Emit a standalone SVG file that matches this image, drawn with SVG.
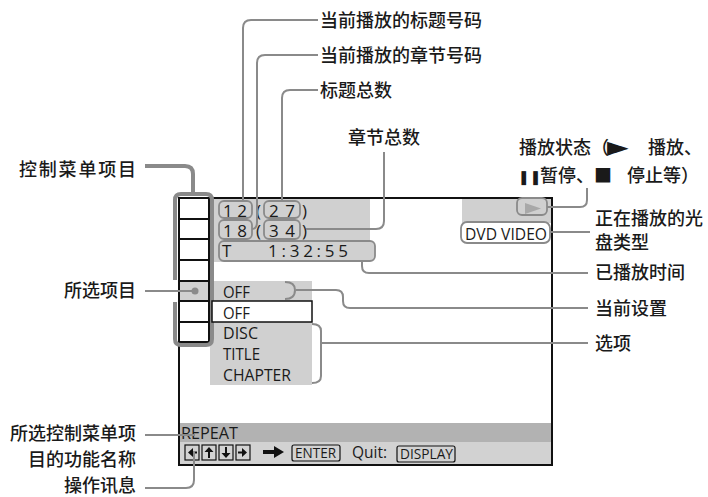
<svg xmlns="http://www.w3.org/2000/svg" width="708" height="497" viewBox="0 0 708 497">
<defs>
<style>
.lbl{font-family:"Noto Sans CJK SC","Noto Sans",sans-serif;font-size:18px;font-weight:500;fill:#1a1a1a}
.scr{font-family:"Open Sans","Liberation Sans",sans-serif;font-size:17px;fill:#1a1a1a}
.small{font-family:"Open Sans","Liberation Sans",sans-serif;font-size:14px;fill:#1a1a1a}
.ld{fill:none;stroke:#8a8a8a;stroke-width:2}
.thick{fill:none;stroke:#8a8a8a;stroke-width:4}
.shade{fill:#d0d0d0}
.gbox{fill:#d0d0d0;stroke:#8a8a8a;stroke-width:1.8}
.blk{fill:none;stroke:#111;stroke-width:2}
.ibox{fill:none;stroke:#111;stroke-width:1.2}
</style>
</defs>
<rect width="708" height="497" fill="#fff"/>

<g id="screen">
  <rect class="shade" x="212" y="199" width="158" height="63"/>
  <rect class="shade" x="462" y="199" width="89" height="24"/>
  <rect class="shade" x="210" y="281" width="102" height="20"/>
  <rect class="shade" x="210" y="322" width="102" height="63"/>
  <rect x="179" y="423" width="372" height="19" fill="#b2b2b2"/>
  <rect x="179" y="442" width="372" height="22" fill="#d2d2d2"/>
  <rect class="blk" x="179" y="198" width="373" height="267"/>
</g>

<g id="menu-column">
  <rect x="179" y="198" width="30" height="144" fill="#fff" stroke="#111" stroke-width="2"/>
  <rect x="180" y="281" width="28" height="20" fill="#d0d0d0"/>
  <path d="M179,219 H209 M179,239 H209 M179,260 H209 M179,281 H209 M179,301 H209 M179,322 H209" stroke="#111" stroke-width="2" fill="none"/>
  <path class="thick" d="M175,280 V200 Q175,194 181,194 H206 Q212,194 212,200 V339 Q212,345 206,345 H181 Q175,345 175,339 V302"/>
</g>

<g id="title-chapter">
  <rect class="gbox" x="219" y="201" width="33" height="17" rx="5"/>
  <rect class="gbox" x="264" y="201" width="36" height="17" rx="5"/>
  <rect class="gbox" x="219" y="220" width="33" height="19" rx="5"/>
  <rect class="gbox" x="264" y="220" width="36" height="19" rx="5"/>
  <text class="scr" x="223" y="217" textLength="24" lengthAdjust="spacing">12</text>
  <text class="scr" x="256" y="217">(</text>
  <text class="scr" x="269" y="217" textLength="26" lengthAdjust="spacing">27</text>
  <text class="scr" x="302" y="217">)</text>
  <text class="scr" x="223" y="237" textLength="24" lengthAdjust="spacing">18</text>
  <text class="scr" x="256" y="237">(</text>
  <text class="scr" x="269" y="237" textLength="26" lengthAdjust="spacing">34</text>
  <text class="scr" x="302" y="237">)</text>
</g>

<g id="time">
  <rect class="gbox" x="219" y="241" width="156" height="20" rx="5"/>
  <text class="scr" x="222" y="257">T</text>
  <text class="scr" x="268" y="257" textLength="80" lengthAdjust="spacing">1:32:55</text>
</g>

<g id="status">
  <rect class="gbox" x="517" y="198" width="30" height="17" rx="5"/>
  <path d="M525,203 L541,208.5 L525,214 Z" fill="#a8a8a8"/>
</g>

<g id="disc-type">
  <rect x="461" y="222" width="89" height="21" rx="6" fill="#fff" stroke="#8a8a8a" stroke-width="1.8"/>
  <text class="scr" x="465" y="240" font-size="18" textLength="82" lengthAdjust="spacingAndGlyphs">DVD VIDEO</text>
</g>

<g id="current-setting">
  <text class="scr" x="223" y="298" textLength="27" lengthAdjust="spacingAndGlyphs">OFF</text>
  <path class="ld" d="M285,282 Q295,282 295,290 Q295,299 285,299"/>
</g>

<g id="options">
  <rect x="212" y="301" width="100" height="21" fill="#fff" stroke="#111" stroke-width="1.5"/>
  <text class="scr" x="223" y="319" textLength="27" lengthAdjust="spacingAndGlyphs">OFF</text>
  <text class="scr" x="223" y="339" textLength="35" lengthAdjust="spacingAndGlyphs">DISC</text>
  <text class="scr" x="223" y="360" textLength="37" lengthAdjust="spacingAndGlyphs">TITLE</text>
  <text class="scr" x="223" y="381" textLength="68" lengthAdjust="spacingAndGlyphs">CHAPTER</text>
  <path class="ld" d="M312,324 Q321,324 321,331 V376 Q321,383 312,383"/>
</g>

<g id="function-name">
  <text class="scr" x="181" y="439" textLength="57" lengthAdjust="spacingAndGlyphs">REPEAT</text>
</g>

<g id="operation-message">
  <rect class="ibox" x="185" y="445" width="14" height="15"/>
  <rect class="ibox" x="202" y="445" width="14" height="15"/>
  <rect class="ibox" x="219" y="445" width="14" height="15"/>
  <rect class="ibox" x="236" y="445" width="14" height="15"/>
  <path d="M188,452.5 L193,448 L193,457 Z M193,451.5 H197 V453.5 H193 Z" fill="#111"/>
  <path d="M209,447 L213.5,452 L204.5,452 Z M208,452 H210 V458 H208 Z" fill="#111"/>
  <path d="M226,458 L221.5,453 L230.5,453 Z M225,447 H227 V453 H225 Z" fill="#111"/>
  <path d="M247,452.5 L242,448 L242,457 Z M238,451.5 H242 V453.5 H238 Z" fill="#111"/>
  <path d="M263,450 H274 V446 L284,452 L274,458 V454 H263 Z" fill="#111"/>
  <rect class="ibox" x="292" y="445" width="48" height="16" rx="2"/>
  <text class="small" x="295" y="458" textLength="41" lengthAdjust="spacingAndGlyphs">ENTER</text>
  <text class="scr" x="352" y="458" textLength="35" lengthAdjust="spacingAndGlyphs">Quit:</text>
  <rect class="ibox" x="397" y="446" width="58" height="16" rx="2"/>
  <text class="small" x="400" y="459" textLength="53" lengthAdjust="spacingAndGlyphs">DISPLAY</text>
</g>

<g id="labels">
  <g id="lbl-title-no"><text class="lbl" x="320" y="27">当前播放的标题号码</text></g>
  <g id="lbl-chapter-no"><text class="lbl" x="320" y="62">当前播放的章节号码</text></g>
  <g id="lbl-title-total"><text class="lbl" x="320" y="97">标题总数</text></g>
  <g id="lbl-chapter-total"><text class="lbl" x="348" y="144">章节总数</text></g>
  <g id="lbl-menu-items"><text class="lbl" x="136" y="176" text-anchor="end" textLength="117" lengthAdjust="spacing">控制菜单项目</text></g>
  <g id="lbl-selected"><text class="lbl" x="136" y="297" text-anchor="end">所选项目</text></g>
  <g id="lbl-function"><text class="lbl" x="136" y="440" text-anchor="end">所选控制菜单项</text><text class="lbl" x="136" y="466" text-anchor="end">目的功能名称</text></g>
  <g id="lbl-operation"><text class="lbl" x="136" y="492" text-anchor="end">操作讯息</text></g>
  <g id="lbl-status">
    <text class="lbl" y="154"><tspan x="519">播放状态（</tspan><tspan x="607" y="156" font-family="DejaVu Sans" font-size="28">►</tspan><tspan x="648" y="154">播放、</tspan></text>
    <text class="lbl" y="182"><tspan x="518" font-family="DejaVu Sans" font-size="14">❚❚</tspan><tspan x="540">暂停、</tspan><tspan x="594">■</tspan><tspan x="627">停止等）</tspan></text>
  </g>
  <g id="lbl-disc-type"><text class="lbl" x="595" y="225">正在播放的光</text><text class="lbl" x="595" y="249">盘类型</text></g>
  <g id="lbl-elapsed"><text class="lbl" x="595" y="279">已播放时间</text></g>
  <g id="lbl-setting"><text class="lbl" x="595" y="315">当前设置</text></g>
  <g id="lbl-options"><text class="lbl" x="595" y="350">选项</text></g>
</g>

<g id="connectors">
  <path class="ld" d="M318,20 H251 Q243,20 243,28 V201"/>
  <path class="ld" d="M318,55 H265 Q257,55 257,63 V222 Q257,229 252,229"/>
  <path class="ld" d="M318,90 H290 Q282,90 282,98 V201"/>
  <path class="ld" d="M384,152 V221 Q384,229 376,229 H306"/>
  <path class="thick" d="M145,166 H185 Q193,166 193,174 V194"/>
  <path class="ld" d="M145,291 H193"/>
  <circle cx="195" cy="291" r="3.5" fill="#8a8a8a"/>
  <path class="ld" d="M145,435 H195"/>
  <path class="ld" d="M145,488 H186 Q194,488 194,480 V451"/>
  <path class="ld" d="M587,188 V200 Q587,207 580,207 H547"/>
  <path class="ld" d="M550,232 H590"/>
  <path class="ld" d="M362,261 V266 Q362,273 369,273 H588"/>
  <path class="ld" d="M296,290 H336 Q343,290 343,297 V301 Q343,308 350,308 H588"/>
  <path class="ld" d="M322,343 H588"/>
</g>
</svg>
